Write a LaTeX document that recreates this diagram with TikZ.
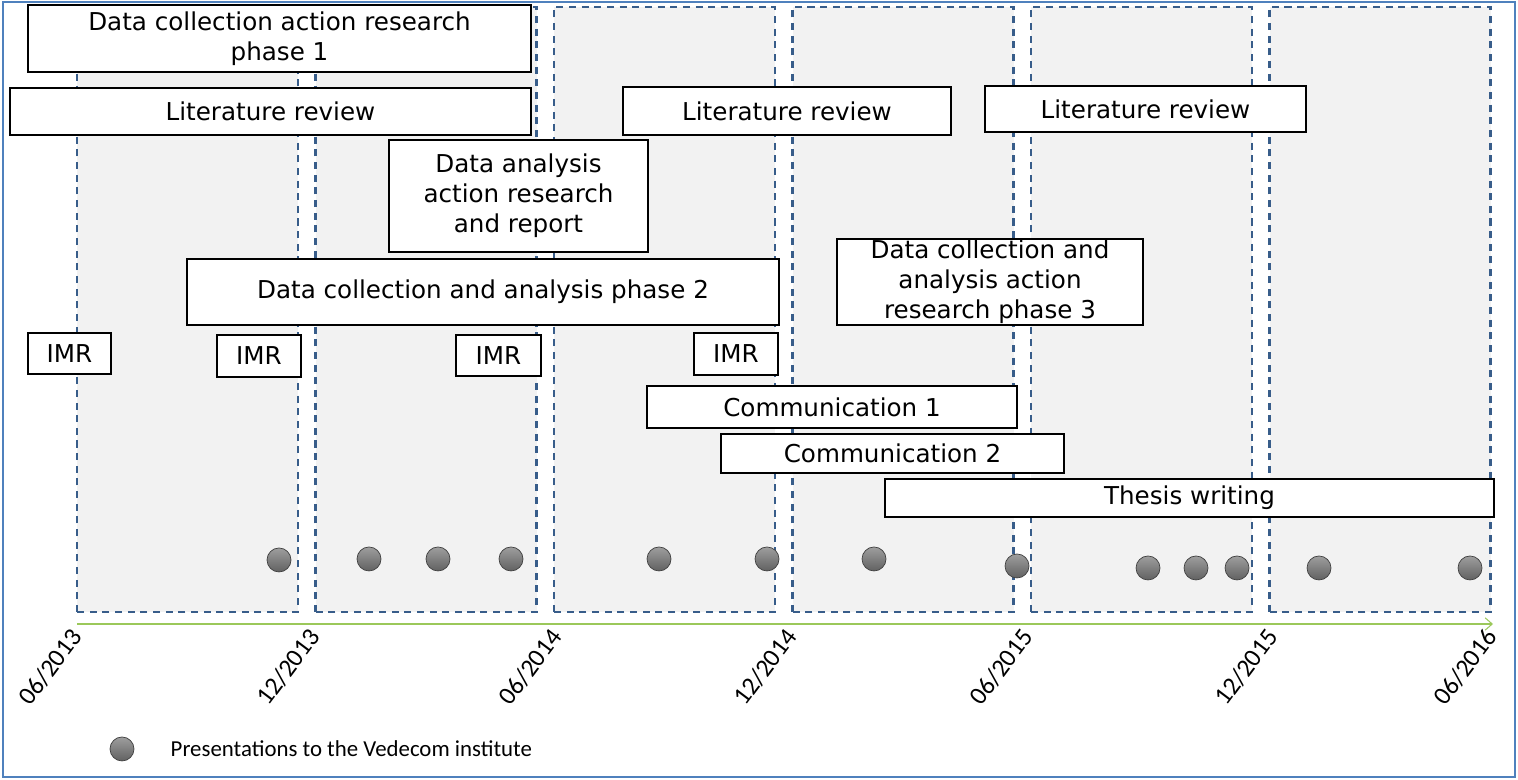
\documentclass[tikz,border=0pt]{standalone}
\usepackage{fontspec}
\setmainfont{DejaVu Sans}
\newfontfamily\calibri{Carlito}
\usetikzlibrary{positioning,arrows.meta}

\definecolor{panelblue}{RGB}{56,93,138}
\definecolor{framblue}{RGB}{79,129,189}
\definecolor{linegreen}{RGB}{155,200,90}

\begin{document}
\begin{tikzpicture}[box/.style={draw, very thick, fill=white, inner sep=0pt, align=center, font=\fontsize{14}{17}\selectfont},
    dot/.style={circle, draw=black!75, thin, minimum size=0.48cm, inner sep=0pt, top color=black!38, bottom color=black!62},
    panel/.style={draw=panelblue, line width=1.4pt, dash pattern=on 4pt off 3.2pt, fill=gray!10},
    date/.style={anchor=north east, rotate=53, inner sep=0pt, font=\calibri\fontsize{14.5}{16}\selectfont}]

    \useasboundingbox (0,0) rectangle (30.36,15.6);
    \draw[framblue, line width=0.9pt] (0.06,0.06) rectangle (30.30,15.56);

    \foreach \i in {0,...,5}
        \draw[panel] ({1.54+4.77*\i},3.36) rectangle ({5.96+4.77*\i},15.46);

    \coordinate (t0) at (1.54,3.12);
    \coordinate (t1) at (29.86,3.12);
    \draw[linegreen, line width=0.6pt, -{Straight Barb[length=4pt, width=7pt]}] (t0) -- (t1);

    \foreach \x/\m/\y in {1.54/06/2013, 6.30/12/2013, 11.14/06/2014, 15.84/12/2014, 20.56/06/2015, 25.46/12/2015, 29.84/06/2016}
        \node[date] at (\x-0.16,3.08) {\m/\y};

    \node[box, minimum width=10.06cm, minimum height=1.34cm] (1) at (5.59,14.83) {Data collection action research\\phase 1};
    \node[box, minimum width=10.42cm, minimum height=0.94cm] (2) at (5.41,13.37) {Literature review};
    \node[box, minimum width=5.18cm, minimum height=2.24cm] (3) at (10.37,11.68) {Data analysis\\action research\\and report};
    \node[box, minimum width=11.84cm, minimum height=1.32cm] (4) at (9.66,9.76) {Data collection and analysis phase 2};

    \node[box, minimum width=1.66cm, minimum height=0.82cm] (5) at (1.39,8.53) {IMR};
    \node[box, minimum width=1.68cm, minimum height=0.84cm] (6) at (5.18,8.48) {IMR};
    \node[box, minimum width=1.70cm, minimum height=0.82cm] (7) at (9.97,8.49) {IMR};
    \node[box, minimum width=1.68cm, minimum height=0.84cm] (8) at (14.72,8.52) {IMR};

    \node[box, minimum width=6.56cm, minimum height=0.96cm] (9) at (15.74,13.38) {Literature review};
    \node[box, minimum width=6.42cm, minimum height=0.92cm] (10) at (22.91,13.42) {Literature review};
    \node[box, minimum width=6.12cm, minimum height=1.72cm] (11) at (19.80,9.96) {Data collection and\\analysis action\\research phase 3};

    \node[box, minimum width=7.40cm, minimum height=0.84cm] (12) at (16.64,7.46) {Communication 1};
    \node[box, minimum width=6.86cm, minimum height=0.78cm] (13) at (17.85,6.53) {Communication 2};
    \node[box, minimum width=12.18cm, minimum height=0.76cm] (14) at (23.79,5.64) {Thesis writing};

    \node[dot] (15) at (5.58,4.40) {};
    \node[dot] (16) at (7.38,4.42) {};
    \node[dot] (17) at (8.76,4.42) {};
    \node[dot] (18) at (10.22,4.42) {};
    \node[dot] (19) at (13.18,4.42) {};
    \node[dot] (20) at (15.34,4.42) {};
    \node[dot] (21) at (17.48,4.42) {};
    \node[dot] (22) at (20.34,4.28) {};
    \node[dot] (23) at (22.96,4.24) {};
    \node[dot] (24) at (23.92,4.24) {};
    \node[dot] (25) at (24.74,4.24) {};
    \node[dot] (26) at (26.38,4.24) {};
    \node[dot] (27) at (29.40,4.24) {};

    \node[dot] (28) at (2.44,0.62) {};
    \node[right=0.72cm of 28, inner sep=0pt, font=\calibri\fontsize{13}{15}\selectfont] (29) {Presentations to the Vedecom institute};

\end{tikzpicture}
\end{document}
